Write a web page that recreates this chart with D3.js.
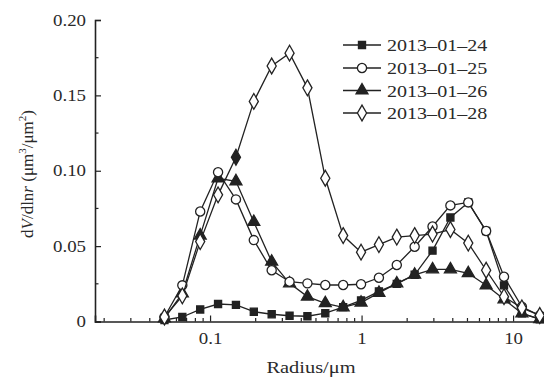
<!DOCTYPE html>
<html><head><meta charset="utf-8">
<script src="https://cdn.jsdelivr.net/npm/d3@7"></script>
<style>body{margin:0;background:#fff}svg{display:block}text{font-family:"Liberation Serif","Times New Roman",serif;fill:#2a2a2a}</style>
</head><body>
<script>
const radius = [0.05,0.065604,0.086077,0.112939,0.148184,0.194429,0.255105,0.334716,0.439173,0.576227,0.756052,0.991996,1.301571,1.707757,2.240702,2.939966,3.857452,5.061260,6.640745,8.713145,11.432287,15.0];
const s0124 = [0.001,0.003,0.008,0.0116,0.011,0.0065,0.0048,0.0038,0.0035,0.0055,0.0095,0.014,0.020,0.025,0.031,0.047,0.069,0.079,0.060,0.024,0.0054,0.0015];
const s0125 = [0.003,0.024,0.073,0.099,0.081,0.054,0.034,0.0264,0.0253,0.0242,0.0242,0.0247,0.029,0.0375,0.0496,0.063,0.077,0.079,0.060,0.0297,0.0098,0.004];
const s0126 = [0.002,0.0187,0.057,0.095,0.093,0.066,0.0397,0.0253,0.0165,0.0121,0.0094,0.0125,0.019,0.0253,0.031,0.0346,0.0346,0.032,0.024,0.0147,0.0054,0.0015];
const s0128 = [0.003,0.017,0.053,0.084,0.109,0.146,0.1695,0.178,0.155,0.095,0.057,0.046,0.051,0.056,0.057,0.058,0.061,0.052,0.034,0.0165,0.009,0.004];
const seriesNames = ["2013\u201301\u201324","2013\u201301\u201325","2013\u201301\u201326","2013\u201301\u201328"];
const seriesSymbols = ["square","circle","triangle","diamond"];
const seriesFilled = [true,false,true,false];
const diamondFilledIdx = [4];
const yTicks = [0,0.05,0.10,0.15,0.20];
const yTickLabels = ["0","0.05","0.10","0.15","0.20"];
const xTicks = [0.1,1,10];
const xTickLabels = ["0.1","1","10"];

const W=544,H=383;
const svg=d3.select("body").append("svg").attr("width",W).attr("height",H);
const x=d3.scaleLog().domain([0.0174,16.0]).range([95,544]);
const y=d3.scaleLinear().domain([0,0.2]).range([321.5,20]);
const ink="#222";

function stretch(sel,f){
  sel.each(function(){
    const L=this.getComputedTextLength();
    d3.select(this).attr("textLength",L*f).attr("lengthAdjust","spacingAndGlyphs");
  });
}

// axes
const gx=svg.append("g").attr("transform","translate(0,321.5)");
gx.call(d3.axisBottom(x).tickValues(xTicks).tickSize(-6).tickFormat((d,i)=>xTickLabels[i]).tickPadding(11));
const minorX=[];
for(const dec of [0.01,0.1,1,10]) for(let k=2;k<=9;k++){const v=dec*k; if(v>x.domain()[0]&&v<x.domain()[1]) minorX.push(v);}
gx.selectAll(".mx").data(minorX).enter().append("line").attr("class","mx")
  .attr("x1",d=>x(d)).attr("x2",d=>x(d)).attr("y1",0).attr("y2",-3.5).attr("stroke",ink).attr("stroke-width",1.2);
const gy=svg.append("g").attr("transform","translate(95,0)");
gy.call(d3.axisLeft(y).tickValues(yTicks).tickSize(-6).tickFormat((d,i)=>yTickLabels[i]).tickPadding(9));
const minorY=d3.range(0.025,0.2,0.05);
gy.selectAll(".my").data(minorY).enter().append("line").attr("class","my")
  .attr("x1",0).attr("x2",3.5).attr("y1",d=>y(d)).attr("y2",d=>y(d)).attr("stroke",ink).attr("stroke-width",1.2);
svg.selectAll(".domain").attr("stroke",ink).attr("stroke-width",1.6);
svg.selectAll(".tick line").attr("stroke",ink).attr("stroke-width",1.2);
svg.selectAll(".tick text").attr("font-size",16).attr("fill","#2a2a2a").style("font-family","Liberation Serif");
stretch(svg.selectAll(".tick text"),1.18);

// axis titles
const xl=svg.append("text").attr("x",311).attr("y",373).attr("text-anchor","middle").attr("font-size",17)
  .text("Radius/\u03bcm");
stretch(xl,1.2);
const yl=svg.append("text").attr("transform","translate(33,174) rotate(-90)").attr("text-anchor","middle").attr("font-size",17);
yl.append("tspan").text("d");
yl.append("tspan").attr("font-style","italic").text("V");
yl.append("tspan").text("/dln");
yl.append("tspan").attr("font-style","italic").text("r");
yl.append("tspan").text(" (\u03bcm");
yl.append("tspan").attr("font-size",11).attr("dy",-7).text("3");
yl.append("tspan").attr("dy",7).text("/\u03bcm");
yl.append("tspan").attr("font-size",11).attr("dy",-7).text("2");
yl.append("tspan").attr("dy",7).text(")");

const allSeries=[s0124,s0125,s0126,s0128];
const symMap={square:d3.symbolSquare,circle:d3.symbolCircle,triangle:d3.symbolTriangle,diamond:d3.symbolDiamond};
const symSize={square:50,circle:66,triangle:62,diamond:72};
function marker(g,type,filled,cx,cy){
  g.append("path").attr("d",d3.symbol().type(symMap[type]).size(symSize[type])())
   .attr("transform",`translate(${cx},${cy})`)
   .attr("fill",filled?ink:"#fff").attr("stroke",ink).attr("stroke-width",1.3);
}
const line=d3.line().x((d,i)=>x(radius[i])).y(d=>y(d));
// draw order: squares bottom, then triangles, circles, diamonds
const order=[0,2,1,3];
order.forEach(si=>{
  const g=svg.append("g");
  g.append("path").datum(allSeries[si]).attr("d",line).attr("fill","none").attr("stroke",ink).attr("stroke-width",1.3);
  allSeries[si].forEach((v,i)=>{
    const filled=seriesFilled[si]||(si===3&&diamondFilledIdx.includes(i));
    marker(g,seriesSymbols[si],filled,x(radius[i]),y(v));
  });
});

// legend
const legY=[45,68,90.5,113];
seriesNames.forEach((n,i)=>{
  const g=svg.append("g");
  g.append("line").attr("x1",343).attr("x2",381).attr("y1",legY[i]).attr("y2",legY[i]).attr("stroke",ink).attr("stroke-width",1.6);
  marker(g,seriesSymbols[i],seriesFilled[i],362,legY[i]);
  const t=g.append("text").attr("x",387).attr("y",legY[i]+6).attr("font-size",17).text(n);
  stretch(t,1.18);
});
</script>
</body></html>
